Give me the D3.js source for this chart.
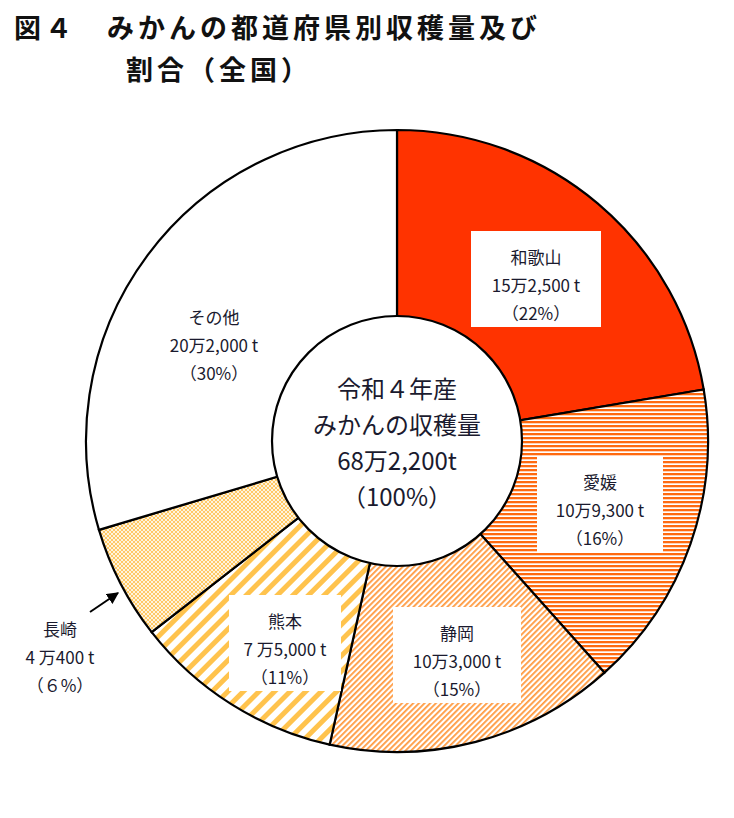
<!DOCTYPE html>
<html><head><meta charset="utf-8">
<script src="https://cdn.jsdelivr.net/npm/d3@7"></script>
<style>body{margin:0;background:#fff}text{font-family:"Noto Sans CJK JP",sans-serif}</style>
</head><body>
<svg id="chart" width="734" height="818"></svg>
<script>
var prefs = ["和歌山", "愛媛", "静岡", "熊本", "長崎", "その他"];
var tons = [152500, 109300, 103000, 75000, 40400, 202000];
var amountLabels = ["15万2,500 t", "10万9,300 t", "10万3,000 t", "7 万5,000 t", "4 万400 t", "20万2,000 t"];
var pctLabels = ["（22%）", "（16%）", "（15%）", "（11%）", "（６%）", "（30%）"];

var svg = d3.select("#chart");
var defs = svg.append("defs");
var cx = 397, cy = 441, R = 311, r0 = 125;

// patterns
var p1 = defs.append("pattern").attr("id", "p1").attr("patternUnits", "userSpaceOnUse").attr("width", 4).attr("height", 4);
p1.append("rect").attr("width", 4).attr("height", 4).attr("fill", "#fff");
p1.append("rect").attr("width", 4).attr("height", 2.3).attr("fill", "#ff6a10");

var p2 = defs.append("pattern").attr("id", "p2").attr("patternUnits", "userSpaceOnUse").attr("width", 4).attr("height", 4).attr("patternTransform", "rotate(45)");
p2.append("rect").attr("width", 4).attr("height", 4).attr("fill", "#fff");
p2.append("rect").attr("width", 1.8).attr("height", 4).attr("fill", "#ff9a40");

var p3 = defs.append("pattern").attr("id", "p3").attr("patternUnits", "userSpaceOnUse").attr("width", 11).attr("height", 11).attr("patternTransform", "rotate(45)");
p3.append("rect").attr("width", 11).attr("height", 11).attr("fill", "#fff");
p3.append("rect").attr("width", 5).attr("height", 11).attr("fill", "#ffc34d");

var p4 = defs.append("pattern").attr("id", "p4").attr("patternUnits", "userSpaceOnUse").attr("width", 4).attr("height", 4);
p4.append("rect").attr("width", 4).attr("height", 4).attr("fill", "#fff4dc");
p4.append("rect").attr("width", 2).attr("height", 2).attr("fill", "#ffc866");
p4.append("rect").attr("x", 2).attr("y", 2).attr("width", 2).attr("height", 2).attr("fill", "#ffc866");

var fills = ["#ff3300", "url(#p1)", "url(#p2)", "url(#p3)", "url(#p4)", "#fff"];

var pie = d3.pie().sort(null).value(function(d){ return d; });
var arcs = pie(tons);
var arc = d3.arc().innerRadius(0).outerRadius(R);

var g = svg.append("g").attr("transform", "translate(" + cx + "," + cy + ")");
g.selectAll("path").data(arcs).enter().append("path")
  .attr("d", arc).attr("fill", function(d, i){ return fills[i]; })
  .attr("stroke", "#000").attr("stroke-width", 2.2);
g.append("circle").attr("r", r0).attr("fill", "#fff").attr("stroke", "#000").attr("stroke-width", 2.2);

// label boxes (centroid-based)
var labelArc = d3.arc().innerRadius(215).outerRadius(215);
var boxW = [130, 126, 128, 112, 0, 0];
arcs.forEach(function(d, i){
  if (i === 4) return;
  var c = labelArc.centroid(d);
  if (i === 0) c = [139, -160];
  if (i === 1) c = [203, 65];
  if (i === 2) c = [60, 216];
  if (i === 3) c = [-112, 204];
  if (i === 5) c = [-183, -100];
  if (boxW[i]) {
    g.append("rect").attr("x", c[0] - boxW[i]/2).attr("y", c[1] - 50)
      .attr("width", boxW[i]).attr("height", 96).attr("fill", "#fff");
  }
  var t = g.append("text").attr("text-anchor", "middle").attr("fill", "#1a1a2e").attr("font-size", 17);
  [prefs[i], amountLabels[i], pctLabels[i]].forEach(function(s, k){
    t.append("tspan").attr("x", c[0]).attr("y", c[1] - 17 + k * 28).text(s);
  });
});

// 長崎 callout
var nt = svg.append("text").attr("text-anchor", "middle").attr("fill", "#1a1a2e").attr("font-size", 17);
[prefs[4], amountLabels[4], pctLabels[4]].forEach(function(s, k){
  nt.append("tspan").attr("x", 60).attr("y", 636 + k * 28).text(s);
});
defs.append("marker").attr("id", "arrow").attr("viewBox", "0 0 10 10").attr("refX", 9).attr("refY", 5)
  .attr("markerWidth", 6).attr("markerHeight", 6).attr("orient", "auto")
  .append("path").attr("d", "M0,0L10,5L0,10z").attr("fill", "#000");
svg.append("line").attr("x1", 90).attr("y1", 612).attr("x2", 118).attr("y2", 593)
  .attr("stroke", "#000").attr("stroke-width", 2).attr("marker-end", "url(#arrow)");

// centre text
var center = ["令和４年産", "みかんの収穫量", "68万2,200t", "（100%）"];
var ct = g.append("text").attr("text-anchor", "middle").attr("fill", "#1a1a2e").attr("font-size", 24);
center.forEach(function(s, k){
  ct.append("tspan").attr("x", 0).attr("y", -43 + k * 36).text(s);
});

// title
svg.append("text").attr("x", 14).attr("y", 38).attr("font-size", 27).attr("font-weight", "bold")
  .attr("letter-spacing", 4).attr("fill", "#111").text("図４　みかんの都道府県別収穫量及び");
svg.append("text").attr("x", 126).attr("y", 80).attr("font-size", 27).attr("font-weight", "bold")
  .attr("letter-spacing", 4).attr("fill", "#111").text("割合（全国）");
</script>
</body></html>
